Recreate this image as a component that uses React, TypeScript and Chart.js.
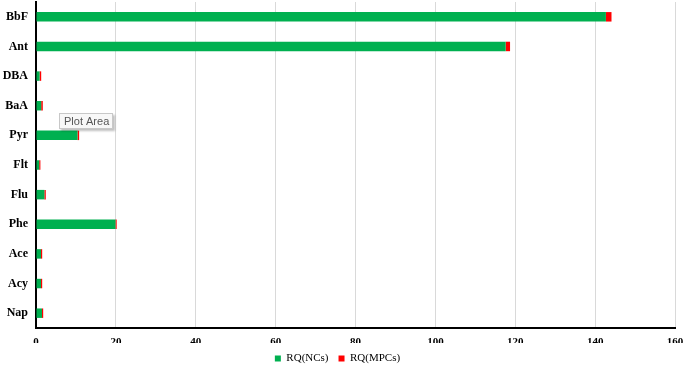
import React, { useEffect, useRef } from "react";
import { Chart, registerables } from "chart.js";

Chart.register(...registerables);

const categories = ["BbF", "Ant", "DBA", "BaA", "Pyr", "Flt", "Flu", "Phe", "Ace", "Acy", "Nap"];
const rqNCs = [142.7, 117.6, 0.9, 1.3, 10.4, 0.8, 2.1, 19.9, 1.25, 1.25, 1.5];
const rqMPCs = [1.4, 1.1, 0.4, 0.4, 0.4, 0.3, 0.35, 0.3, 0.3, 0.3, 0.3];
const xTicks = [0, 20, 40, 60, 80, 100, 120, 140, 160];

const plotAreaLabel = {
  id: "plotAreaLabel",
  afterDraw(chart: any) {
    const ctx = chart.ctx;
    ctx.save();
    const x = 59, y = 113, w = 54, h = 16;
    ctx.shadowColor = "rgba(0,0,0,0.25)";
    ctx.shadowOffsetX = 2;
    ctx.shadowOffsetY = 2;
    ctx.shadowBlur = 2;
    ctx.fillStyle = "#f8f8f8";
    ctx.fillRect(x, y, w, h);
    ctx.shadowColor = "transparent";
    ctx.strokeStyle = "#c8c8c8";
    ctx.lineWidth = 1;
    ctx.strokeRect(x + 0.5, y + 0.5, w - 1, h - 1);
    ctx.fillStyle = "#555";
    ctx.font = "11px 'Liberation Sans', Arial, sans-serif";
    ctx.textBaseline = "middle";
    ctx.fillText("Plot Area", x + 5, y + h / 2 + 0.5);
    ctx.restore();
  },
};

export default function App() {
  const ref = useRef<HTMLCanvasElement>(null);
  useEffect(() => {
    document.body.style.margin = "0";
    const chart = new Chart(ref.current!, {
      type: "bar",
      data: {
        labels: categories,
        datasets: [
          { label: "RQ(NCs)", data: rqNCs, backgroundColor: "#00B050", borderWidth: 0, barPercentage: 0.32, categoryPercentage: 1 },
          { label: "RQ(MPCs)", data: rqMPCs, backgroundColor: "#FF0000", borderWidth: 0, barPercentage: 0.32, categoryPercentage: 1 },
        ],
      },
      options: {
        indexAxis: "y",
        animation: false,
        responsive: false,
        layout: { autoPadding: false, padding: { top: 2, right: 10, left: 0, bottom: -6 } },
        scales: {
          x: {
            stacked: true,
            min: 0,
            max: 160,
            afterBuildTicks(scale: any) {
              scale.ticks = xTicks.map((v) => ({ value: v }));
            },
            grid: { color: "#d9d9d9", lineWidth: 1, drawTicks: false },
            border: { color: "#000", width: 2 },
            ticks: {
              color: "#000",
              padding: 8,
              font: { family: "'Liberation Serif', 'Times New Roman', serif", weight: "bold", size: 11 },
            },
            afterFit(scale: any) {
              scale.height = 15;
              scale.paddingLeft = 0;
              scale.paddingRight = 0;
              scale.paddingTop = 0;
              scale.paddingBottom = 0;
            },
          },
          y: {
            stacked: true,
            grid: { display: false, drawTicks: false },
            border: { color: "#000", width: 2 },
            ticks: {
              color: "#000",
              padding: 8,
              font: { family: "'Liberation Serif', 'Times New Roman', serif", weight: "bold", size: 12 },
            },
            afterFit(scale: any) {
              scale.width = 36;
              scale.paddingLeft = 0;
              scale.paddingRight = 0;
              scale.paddingTop = 0;
              scale.paddingBottom = 0;
            },
          },
        },
        plugins: {
          legend: {
            position: "bottom",
            labels: {
              boxWidth: 6,
              boxHeight: 6,
              padding: 10,
              color: "#000",
              font: { family: "'Liberation Serif', 'Times New Roman', serif", size: 11 },
            },
          },
          tooltip: { enabled: false },
        },
      },
      plugins: [plotAreaLabel],
    } as any);
    return () => chart.destroy();
  }, []);
  return (
    <div style={{ width: 685, height: 368, background: "#fff" }}>
      <canvas ref={ref} width={685} height={368} style={{ display: "block" }} />
    </div>
  );
}
